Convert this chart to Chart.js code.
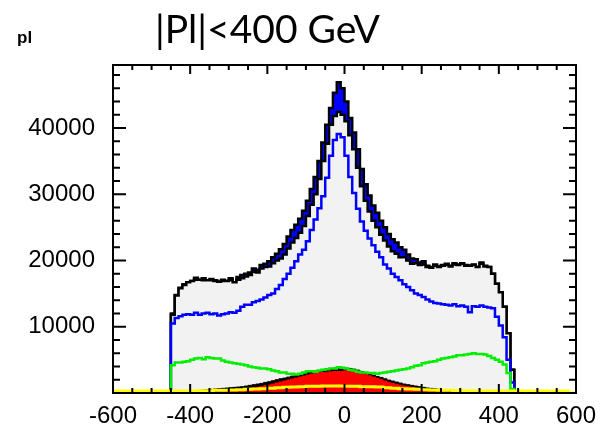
<!DOCTYPE html>
<html>
<head>
<meta charset="utf-8">
<script src="https://cdn.jsdelivr.net/npm/chart.js@4/dist/chart.umd.min.js"></script>
<style>
  html, body { margin: 0; padding: 0; background: #fff; }
  #wrap { width: 613px; height: 425px; }
</style>
</head>
<body>
<div id="wrap"><canvas id="plChart" width="613" height="425"></canvas></div>
<script>
(function() {
  'use strict';

  // binning of the histograms (low edge, bin width)
  var histLo = -450;
  var histWidth = 10;
  var yellowLo = -600;
  var yellowWidth = 20;

  var xTickValues = [-600, -400, -200, 0, 200, 400, 600];
  var yTickValues = [10000, 20000, 30000, 40000];

  // data (blue filled, black outline)
  var dataCounts = [
    8500, 12000, 14800, 15900, 16400, 16700, 16900, 17400, 17100, 17300,
    17000, 17200, 17000, 16800, 17100, 16900, 17300, 16700, 17500, 17800,
    18000, 18200, 18800, 18600, 19300, 19500, 19900, 20500, 21000, 21700,
    22500, 23600, 24600, 25400, 26300, 27500, 29000, 30800, 32600, 35000,
    37800, 40500, 43000, 45300, 46900, 46000, 44000, 41500, 39300, 36800,
    33800, 31500, 29800, 28300, 27200, 26000, 25000, 24000, 23200, 22700,
    22000, 21600, 20900, 20300, 20200, 19700, 19900, 19200, 19000, 19400,
    19100, 19300, 19500, 19200, 19600, 19400, 19600, 19300, 19200, 19400,
    19000, 19700, 19200, 19000, 18000, 16500, 15200, 13000, 9000, 3500
  ];

  // total prediction (grey filled, black outline)
  var totalMC = [
    8300, 11800, 14700, 15800, 16300, 16700, 16900, 17100, 17100, 17000,
    17000, 17000, 16900, 16800, 16900, 16900, 17000, 16700, 17100, 17300,
    17600, 17800, 18300, 18200, 18800, 19000, 19100, 19600, 20000, 20300,
    20900, 21800, 22700, 23400, 24200, 25200, 26700, 28400, 30000, 32300,
    35000, 37600, 40500, 41800, 42400, 42000, 41000, 38900, 36800, 34000,
    31200, 29000, 27400, 26000, 25000, 23900, 23000, 22100, 21400, 21000,
    20500, 20500, 20000, 19500, 19600, 19300, 19400, 19000, 18900, 19200,
    19000, 19200, 19300, 19100, 19400, 19300, 19500, 19200, 19200, 19300,
    19000, 19500, 19100, 19000, 18000, 16500, 15200, 13000, 9000, 3500
  ];

  // blue component
  var blueComp = [
    5000, 10500, 11300, 11600, 11800, 11900, 11800, 12100, 11800, 12000,
    12100, 11900, 12000, 11700, 11900, 12000, 12200, 12100, 12400, 13000,
    13300, 13300, 13700, 13900, 14100, 14400, 14800, 15000, 15700, 16300,
    17200, 18000, 18900, 19900, 20900, 21600, 22900, 24600, 26200, 27900,
    29700, 32500, 35800, 38200, 39100, 38600, 35800, 32600, 30200, 27800,
    25900, 24500, 23300, 22300, 21300, 20500, 19400, 18800, 18000, 17500,
    17000, 16400, 16000, 15500, 15000, 14800, 14500, 14100, 13800, 13600,
    13500, 13400, 13300, 13200, 13400, 13100, 13200, 13000, 12200, 13100,
    13000, 13200, 13000, 12900, 12800, 11500, 10200, 8400, 5000, 1600
  ];

  // green component
  var greenComp = [
    2400, 4200, 4600, 4600, 4700, 4800, 5000, 5200, 5300, 5100,
    5400, 5300, 5200, 5200, 4900, 4700, 4600, 4500, 4400, 4300,
    4200, 4000, 3900, 3800, 3700, 3700, 3600, 3400, 3300, 3100,
    3100, 2900, 2900, 2800, 2900, 3100, 3300, 3300, 3200, 3400,
    3500, 3600, 3700, 3700, 3900, 3800, 3700, 3500, 3400, 3200,
    3100, 3100, 3000, 3000, 2900, 3000, 3100, 3200, 3300, 3400,
    3500, 3600, 3700, 3900, 4100, 4200, 4500, 4600, 4700, 4800,
    5000, 5200, 5300, 5400, 5500, 5700, 5700, 5800, 5900, 6000,
    5900, 5900, 5800, 5600, 5300, 5000, 4700, 4300, 3000, 600
  ];

  // black filled component
  var blackComp = [
    100, 100, 150, 150, 200, 250, 300, 350, 400, 450,
    500, 550, 600, 650, 700, 750, 800, 850, 900, 950,
    1050, 1150, 1250, 1350, 1450, 1600, 1700, 1850, 2000, 2150,
    2250, 2400, 2550, 2650, 2800, 2950, 3100, 3200, 3300, 3400,
    3500, 3600, 3700, 3750, 3850, 3800, 3750, 3700, 3600, 3450,
    3250, 3050, 2900, 2700, 2500, 2350, 2150, 1950, 1800, 1650,
    1500, 1350, 1250, 1150, 1050, 950, 850, 750, 700, 650,
    550, 500, 450, 400, 350, 300, 300, 250, 250, 200,
    200, 150, 150, 150, 100, 100, 100, 50, 50, 50
  ];

  // red filled component
  var redComp = [
    0, 0, 0, 0, 0, 50, 50, 50, 100, 100,
    100, 150, 150, 200, 200, 250, 250, 300, 350, 450,
    550, 650, 750, 850, 950, 1100, 1200, 1350, 1500, 1650,
    1800, 1950, 2100, 2250, 2400, 2550, 2700, 2850, 2950, 3050,
    3100, 3150, 3200, 3250, 3250, 3300, 3350, 3400, 3350, 3200,
    3000, 2800, 2600, 2400, 2200, 2000, 1800, 1600, 1450, 1300,
    1150, 1050, 950, 850, 750, 650, 550, 450, 400, 350,
    300, 250, 200, 150, 150, 100, 100, 100, 50, 50,
    50, 0, 0, 0, 0, 0, 0, 0, 0, 0
  ];

  // yellow component (20 wide bins over the whole range)
  var yellowComp = [
    300, 300, 300, 300, 300, 300, 300, 300, 300, 300,
    300, 300, 350, 350, 400, 400, 450, 500, 550, 600,
    650, 700, 800, 850, 900, 950, 1000, 1000, 1050, 1050,
    1050, 1000, 1000, 950, 950, 900, 800, 700, 650, 600,
    550, 500, 450, 400, 400, 350, 350, 300, 300, 300,
    300, 300, 300, 300, 300, 300, 300, 300, 300, 300
  ];

  var xMin = -600;
  var xMax = 600;
  var yMax = 49500;
  var tickFont = 'Liberation Sans';

  // bins -> step points, closed down to zero at both ends
  function histPoints(lo, width, counts) {
    var pts = [{ x: lo, y: 0 }];
    for (var i = 0; i < counts.length; i++) {
      pts.push({ x: lo + i * width, y: counts[i] });
    }
    pts.push({ x: lo + counts.length * width, y: 0 });
    return pts;
  }

  function histSet(counts, lo, width, opts) {
    var ds = {
      data: histPoints(lo, width, counts),
      stepped: 'after',
      pointRadius: 0,
      borderJoinStyle: 'miter',
      borderCapStyle: 'butt',
      fill: false
    };
    for (var k in opts) { ds[k] = opts[k]; }
    return ds;
  }

  // ROOT style frame with inside ticks on all four sides
  var frameTicks = {
    id: 'frameTicks',
    afterDatasetsDraw: function(chart) {
      var ctx = chart.ctx;
      var a = chart.chartArea;
      var x = chart.scales.x;
      var y = chart.scales.y;
      var v, p, len;
      ctx.save();
      ctx.strokeStyle = '#000';
      ctx.lineWidth = 2;
      ctx.beginPath();
      for (v = xMin; v <= xMax; v += 50) {
        p = x.getPixelForValue(v);
        len = (v % 200 === 0) ? 9 : 5;
        ctx.moveTo(p, a.top); ctx.lineTo(p, a.top + len);
        ctx.moveTo(p, a.bottom); ctx.lineTo(p, a.bottom - len);
      }
      for (v = 0; v <= yMax; v += 2000) {
        p = y.getPixelForValue(v);
        len = (v % 10000 === 0) ? 13 : 7;
        ctx.moveTo(a.left, p); ctx.lineTo(a.left + len, p);
        ctx.moveTo(a.right, p); ctx.lineTo(a.right - len, p);
      }
      ctx.stroke();
      ctx.strokeRect(a.left, a.top, a.right - a.left, a.bottom - a.top);
      ctx.restore();
    },
    afterDraw: function(chart) {
      var ctx = chart.ctx;
      ctx.save();
      ctx.fillStyle = '#000';
      ctx.textBaseline = 'alphabetic';
      ctx.font = '39px Lato';
      ctx.fillText('|Pl|<400 GeV', 155, 43);
      ctx.font = 'bold 17px "Liberation Sans"';
      ctx.fillText('pl', 17, 43);
      ctx.restore();
    }
  };

  var datasets = [
    histSet(dataCounts, histLo, histWidth, {
      order: 6, fill: 'origin', backgroundColor: '#0000ff', borderColor: '#000', borderWidth: 2.5
    }),
    histSet(totalMC, histLo, histWidth, {
      order: 5, fill: 'origin', backgroundColor: '#f2f2f2', borderColor: '#000', borderWidth: 2.5
    }),
    histSet(blueComp, histLo, histWidth, {
      order: 4, borderColor: '#0000ff', borderWidth: 2.5
    }),
    histSet(blackComp, histLo, histWidth, {
      order: 3, fill: 'origin', backgroundColor: '#000', borderColor: '#000', borderWidth: 1
    }),
    histSet(redComp, histLo, histWidth, {
      order: 2, fill: 'origin', backgroundColor: '#ff0000', borderColor: '#ff0000', borderWidth: 1
    }),
    histSet(greenComp, histLo, histWidth, {
      order: 1, borderColor: '#00ee00', borderWidth: 2.5
    }),
    histSet(yellowComp, yellowLo, yellowWidth, {
      order: 0, borderColor: '#ffff00', borderWidth: 3
    })
  ];

  new Chart(document.getElementById('plChart'), {
    type: 'line',
    data: { datasets: datasets },
    options: {
      responsive: false,
      animation: false,
      events: [],
      layout: { padding: { left: 0, top: 65, right: 37, bottom: 0 } },
      plugins: {
        legend: { display: false },
        tooltip: { enabled: false },
        title: { display: false }
      },
      scales: {
        x: {
          type: 'linear',
          min: xMin,
          max: xMax,
          grid: { display: false },
          border: { display: false },
          ticks: {
            color: '#000',
            padding: 1,
            maxRotation: 0,
            autoSkip: false,
            font: { family: tickFont, size: 24 },
            callback: function(v) { return String(v); }
          },
          afterBuildTicks: function(s) {
            s.ticks = xTickValues.map(function(v) { return { value: v }; });
          },
          afterFit: function(s) { s.height = 32; }
        },
        y: {
          type: 'linear',
          min: 0,
          max: yMax,
          grid: { display: false },
          border: { display: false },
          ticks: {
            color: '#000',
            padding: 10,
            font: { family: tickFont, size: 24 },
            callback: function(v) { return String(v); }
          },
          afterBuildTicks: function(s) {
            s.ticks = yTickValues.map(function(v) { return { value: v }; });
          },
          afterFit: function(s) { s.width = 113; }
        }
      }
    },
    plugins: [frameTicks]
  });
})();
</script>
</body>
</html>
